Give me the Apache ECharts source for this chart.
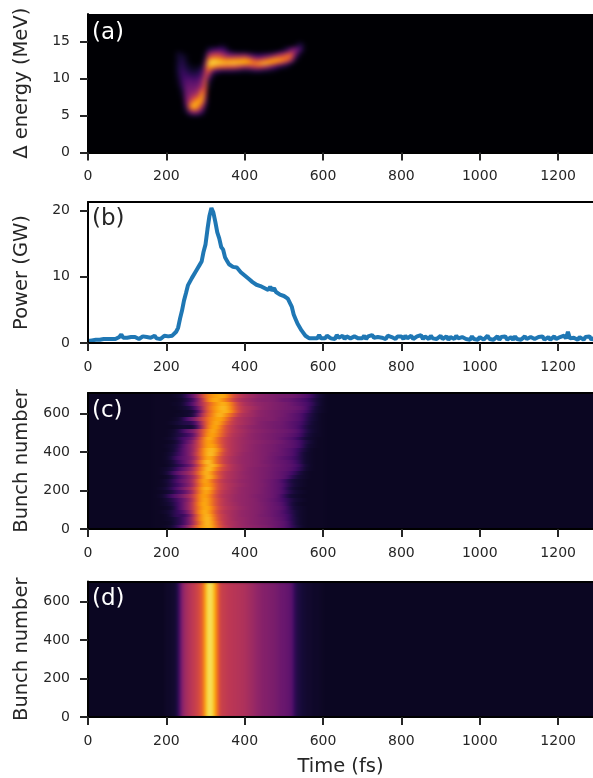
<!DOCTYPE html>
<html>
<head>
<meta charset="UTF-8">
<title></title>
<style>
html, body { margin: 0; padding: 0; background: #fff; overflow: hidden; }
#page { position: relative; width: 593px; height: 778px; }
#main { position: absolute; left: 0; top: 0; width: 593px; height: 778px; }
.heatClip { position: absolute; overflow: hidden; }
.heatInner { position: absolute; }
</style>
<script src="https://cdn.jsdelivr.net/npm/echarts@6/dist/echarts.min.js"></script>
</head>
<body>
<svg width="0" height="0" style="position:absolute">
  <filter id="softA" x="0" y="0" width="100%" height="100%" color-interpolation-filters="sRGB"><feGaussianBlur stdDeviation="2.4 2"/></filter>
  <filter id="softC" x="0" y="0" width="100%" height="100%" color-interpolation-filters="sRGB"><feGaussianBlur stdDeviation="2.4 0.7"/></filter>
  <filter id="softD" x="0" y="0" width="100%" height="100%" color-interpolation-filters="sRGB"><feGaussianBlur stdDeviation="1.6 1.5"/></filter>
</svg>
<div id="page"><div id="main"></div></div>
<script>
// tick labels
var timeTicks = [0, 200, 400, 600, 800, 1000, 1200];
var energyTicks = [0, 5, 10, 15];
var powerTicks = [0, 10, 20];
var bunchTicks = [0, 200, 400, 600];

// (a) energy vs time, values are % of the colour scale. rows go from 15 MeV down to 5 MeV, 0.5 MeV apart
var energyRows = [15, 14.5, 14, 13.5, 13, 12.5, 12, 11.5, 11, 10.5, 10, 9.5, 9, 8.5, 8, 7.5, 7, 6.5, 6, 5.5, 5];
var energyTimes = [220,230,240,250,260,270,280,290,300,310,320,330,340,350,360,370,380,390,400,410,420,430,440,450,460,470,480,490,500,510,520,530,540,550,560];
var energyMap = [
  [0,0,0,0,0,0,0,0,0,0,0,0,0,0,0,0,0,0,0,0,0,0,0,0,0,0,0,0,0,0,0,0,2,0,0],
  [0,0,0,0,0,0,0,0,0,0,0,0,4,2,0,0,0,0,0,0,0,0,0,0,0,0,0,0,0,0,0,5,12,5,0],
  [0,0,0,0,0,0,0,0,0,10,15,18,20,15,3,0,0,0,0,0,0,0,0,0,0,0,0,0,5,15,30,30,22,6,0],
  [0,5,3,0,0,0,0,0,5,30,38,42,38,30,18,12,8,8,8,5,3,2,2,3,4,6,12,22,30,42,50,35,12,2,0],
  [0,8,8,4,0,0,0,0,10,50,58,60,55,45,40,40,42,42,45,35,25,20,20,25,30,38,48,55,60,68,58,20,3,0,0],
  [0,8,12,6,0,0,0,0,25,75,85,82,78,72,72,74,74,76,78,72,60,52,55,62,68,75,78,76,70,62,38,6,0,0,0],
  [0,9,14,8,2,0,0,2,40,88,91,88,87,85,85,87,85,83,80,76,72,74,80,85,82,72,62,50,38,22,8,0,0,0,0],
  [0,10,15,10,6,3,4,10,46,78,74,66,62,60,58,58,54,48,42,44,48,52,52,48,40,30,20,12,8,4,0,0,0,0,0],
  [0,10,18,14,10,8,10,18,50,62,30,20,15,14,14,14,12,10,8,9,12,14,13,10,8,5,3,0,0,0,0,0,0,0,0],
  [0,8,18,18,16,14,16,24,58,40,8,2,0,0,0,0,0,0,0,0,0,0,0,0,0,0,0,0,0,0,0,0,0,0,0],
  [0,6,18,22,22,20,22,32,62,22,3,0,0,0,0,0,0,0,0,0,0,0,0,0,0,0,0,0,0,0,0,0,0,0,0],
  [0,4,17,25,26,25,26,38,63,12,0,0,0,0,0,0,0,0,0,0,0,0,0,0,0,0,0,0,0,0,0,0,0,0,0],
  [0,2,14,28,30,30,32,45,62,6,0,0,0,0,0,0,0,0,0,0,0,0,0,0,0,0,0,0,0,0,0,0,0,0,0],
  [0,0,10,30,32,34,38,58,58,2,0,0,0,0,0,0,0,0,0,0,0,0,0,0,0,0,0,0,0,0,0,0,0,0,0],
  [0,0,6,30,35,40,45,72,50,0,0,0,0,0,0,0,0,0,0,0,0,0,0,0,0,0,0,0,0,0,0,0,0,0,0],
  [0,0,3,30,42,52,62,78,42,0,0,0,0,0,0,0,0,0,0,0,0,0,0,0,0,0,0,0,0,0,0,0,0,0,0],
  [0,0,0,28,52,68,80,74,30,0,0,0,0,0,0,0,0,0,0,0,0,0,0,0,0,0,0,0,0,0,0,0,0,0,0],
  [0,0,0,22,68,85,80,58,18,0,0,0,0,0,0,0,0,0,0,0,0,0,0,0,0,0,0,0,0,0,0,0,0,0,0],
  [0,0,0,14,62,80,66,40,8,0,0,0,0,0,0,0,0,0,0,0,0,0,0,0,0,0,0,0,0,0,0,0,0,0,0],
  [0,0,0,6,30,42,36,18,2,0,0,0,0,0,0,0,0,0,0,0,0,0,0,0,0,0,0,0,0,0,0,0,0,0,0],
  [0,0,0,0,6,10,9,4,0,0,0,0,0,0,0,0,0,0,0,0,0,0,0,0,0,0,0,0,0,0,0,0,0,0,0]
];

// (b) power in GW, one reading every 5 fs starting at 0 fs
var powerValues = [
  0.3,0.5,0.4,0.6,0.5,0.7,0.5,0.8,0.6,0.8,0.6,0.8,0.6,0.8,0.6,0.8,0.9,1.3,0.8,0.7,
  0.8,0.6,0.9,0.6,0.9,1.0,0.6,0.7,1.0,0.7,0.9,0.6,0.8,1.0,1.1,0.7,0.8,0.6,0.9,1.1,
  0.8,1.0,0.9,1.1,1.2,1.7,2.3,3.7,4.9,6.4,7.5,8.7,8.9,9.8,10.1,10.8,10.9,11.8,12.3,13.8,
  14.9,17.2,19.2,20.4,19.7,18.3,16.7,15.8,14.5,14.1,12.9,12.4,11.9,12.0,11.5,11.7,11.4,11.4,10.7,10.7,
  10.2,10.2,9.7,9.7,9.2,9.2,8.8,8.9,8.6,8.7,8.3,8.5,8.0,8.5,7.9,8.3,7.7,7.8,7.3,7.2,
  7.1,6.8,6.7,6.1,5.5,4.3,3.6,2.9,2.7,1.9,1.6,1.1,1.1,0.7,0.8,0.7,0.8,0.7,1.2,0.7,
  1.0,0.7,1.1,1.2,0.7,1.0,0.6,1.2,0.8,0.9,1.1,0.6,1.0,1.2,0.7,0.8,1.0,1.1,0.7,1.0,
  0.7,1.1,0.6,1.0,0.7,1.2,0.8,0.6,0.9,1.1,0.8,0.9,0.6,1.1,0.8,0.9,1.2,0.6,1.0,0.7,
  1.0,0.6,1.1,0.7,1.0,1.1,0.6,0.9,1.0,0.7,1.2,0.6,1.0,0.7,0.6,1.1,0.7,1.0,0.6,0.9,
  1.1,0.6,0.9,1.0,0.5,0.9,1.0,0.6,1.1,0.7,0.5,0.9,1.0,0.6,0.9,0.5,1.0,0.6,0.9,0.5,
  0.9,1.0,0.5,0.8,1.1,0.6,0.9,0.5,0.8,1.0,0.5,0.9,0.6,1.0,0.5,0.8,0.9,0.5,1.0,0.6,
  0.9,0.5,0.8,1.0,0.6,0.5,0.9,1.1,0.6,0.5,0.9,0.6,1.0,0.5,0.8,0.9,0.5,0.8,1.0,0.6,
  0.5,0.9,0.6,1.1,0.7,1.7,0.7,0.5,0.8,1.0,0.5,0.9,0.6,0.5,0.9,0.6,1.0,0.5,0.8,0.9
];

// (c) measured bunches, % of colour scale. rows from bunch 690 down to bunch 10, columns 170 fs to 600 fs every 10 fs
var shotBunches = [690,670,650,630,610,590,570,550,530,510,490,470,450,430,410,390,370,350,330,310,290,270,250,230,210,190,170,150,130,110,90,70,50,30,10];
var shotTimes = [170,180,190,200,210,220,230,240,250,260,270,280,290,300,310,320,330,340,350,360,370,380,390,400,410,420,430,440,450,460,470,480,490,500,510,520,530,540,550,560,570,580,590,600];
var shotMap = [
  [6,6,6,6,6,7,8,10,16,24,32,42,56,66,72,78,80,82,80,70,60,54,50,46,44,42,40,38,37,36,35,34,33,33,32,32,30,28,26,24,20,14,10,8],
  [6,6,6,6,6,6,7,8,12,16,24,36,50,62,74,80,82,78,72,64,56,50,46,44,42,40,38,37,36,36,35,34,32,30,30,28,26,24,22,20,16,12,9,7],
  [6,6,6,6,6,7,7,9,14,20,28,38,48,56,64,72,78,82,82,76,66,56,50,46,44,42,40,39,38,37,36,35,34,33,32,30,28,26,24,22,18,13,9,7],
  [6,6,6,6,6,6,7,8,10,12,20,30,44,56,66,74,80,84,84,78,68,58,52,48,46,44,42,40,38,37,36,35,34,33,32,31,30,28,26,22,16,11,8,7],
  [6,6,6,6,6,6,6,7,8,8,12,22,40,54,64,72,80,82,84,80,70,60,52,48,45,42,40,38,37,36,35,34,33,32,31,30,28,26,24,20,14,10,8,7],
  [6,6,6,6,6,6,7,7,8,9,14,30,46,58,66,74,82,84,78,70,62,54,48,46,44,42,40,38,37,36,35,34,33,32,30,28,26,24,20,16,12,9,7,6],
  [6,6,6,6,6,7,8,12,20,28,34,44,54,62,70,76,80,80,72,62,54,48,46,44,42,40,38,37,36,36,35,34,32,31,30,28,26,24,20,15,11,9,7,6],
  [6,6,6,6,7,8,10,12,14,14,20,32,48,60,70,78,82,76,66,58,52,48,46,44,42,40,38,36,35,34,33,32,32,30,28,26,24,22,18,14,10,8,7,6],
  [6,6,6,6,6,6,8,8,10,8,12,26,44,60,72,80,80,70,60,54,50,46,44,42,40,38,37,36,35,34,33,32,31,30,28,26,24,20,16,12,9,8,7,6],
  [6,6,6,6,7,8,12,18,26,30,36,46,58,68,76,82,76,68,60,54,50,47,45,43,41,39,38,37,36,35,34,33,32,31,30,28,26,22,18,13,10,8,7,6],
  [6,6,6,6,7,9,12,14,18,22,30,44,58,70,78,80,74,66,58,52,48,46,44,42,40,38,37,36,35,34,33,32,31,30,28,26,24,20,16,11,9,7,7,6],
  [6,6,6,7,8,10,14,20,24,28,36,50,64,76,82,78,68,60,54,50,47,45,43,41,40,38,37,36,35,34,33,32,30,28,26,24,20,16,12,9,8,7,6,6],
  [6,6,6,6,7,8,12,18,26,32,42,54,66,76,80,76,68,60,54,50,47,45,43,42,40,39,38,37,36,35,34,33,32,30,28,26,24,20,16,12,9,7,6,6],
  [6,6,6,7,8,10,14,22,30,36,44,54,66,76,80,80,72,62,54,50,47,45,43,41,40,38,37,36,35,34,33,32,30,29,28,26,24,20,15,10,8,7,6,6],
  [6,6,6,6,8,10,16,24,30,36,44,56,70,80,84,84,78,66,56,50,47,45,43,41,40,38,37,36,35,34,33,32,30,28,26,24,20,16,12,9,7,6,6,6],
  [6,6,6,7,9,12,18,24,30,36,46,58,70,80,85,84,74,62,54,50,47,44,42,40,39,38,37,36,35,34,32,31,30,28,26,24,20,14,10,8,7,6,6,6],
  [6,6,6,7,10,16,22,26,30,34,42,54,68,78,82,78,66,58,52,48,45,43,41,40,39,38,37,36,35,33,32,30,28,26,24,22,18,14,10,8,7,6,6,6],
  [6,6,6,7,8,12,18,24,30,36,46,60,74,84,86,78,66,58,52,48,45,43,41,40,39,38,37,36,34,33,32,30,29,28,26,24,20,15,10,8,7,6,6,6],
  [6,6,6,6,8,10,14,18,24,30,40,54,68,78,84,84,76,64,56,50,47,44,42,40,39,38,37,36,35,34,32,31,30,28,27,25,22,18,12,9,7,6,6,6],
  [6,6,7,8,10,14,20,26,32,38,48,60,72,82,86,80,68,60,54,50,46,44,42,40,38,37,36,35,34,33,32,30,29,28,26,24,20,16,11,8,7,6,6,6],
  [6,6,7,9,14,22,28,34,38,44,52,64,76,84,82,72,62,55,50,47,45,43,41,39,38,37,36,35,34,33,31,30,28,26,24,20,16,11,8,7,6,6,6,6],
  [6,6,6,7,9,14,20,26,32,38,46,58,72,82,84,76,64,56,50,47,45,43,41,40,38,37,36,35,34,33,31,30,28,26,22,16,12,9,8,7,6,6,6,6],
  [6,6,7,9,12,18,24,30,34,40,50,64,76,82,76,66,58,52,48,46,44,42,40,39,38,37,36,35,33,32,30,28,25,20,15,11,9,8,7,6,6,6,6,6],
  [6,6,7,8,12,16,20,26,32,38,48,62,74,80,78,70,60,54,50,47,45,43,41,40,38,37,36,35,34,32,30,28,26,22,16,12,9,8,7,6,6,6,6,6],
  [6,7,8,10,14,20,26,32,38,44,54,66,78,84,82,72,60,54,50,47,44,42,40,39,38,37,36,35,33,32,30,28,26,20,14,10,8,7,6,6,6,6,6,6],
  [6,6,7,8,10,14,20,24,30,38,50,64,76,82,78,68,58,52,48,46,44,42,40,39,38,37,36,35,33,32,30,28,26,22,16,12,9,8,7,6,6,6,6,6],
  [6,7,8,12,18,24,28,34,40,46,56,68,78,80,74,64,56,50,47,45,43,41,40,39,38,36,35,34,33,32,30,28,24,18,12,9,8,7,6,6,6,6,6,6],
  [6,6,7,9,12,16,22,28,34,42,54,68,78,82,76,66,58,52,48,45,43,41,40,39,38,37,36,34,33,31,29,27,24,20,16,12,9,8,7,6,6,6,6,6],
  [6,6,7,8,10,14,20,28,36,44,56,70,80,82,76,66,58,52,48,46,44,42,40,39,38,37,36,35,33,32,30,28,26,22,16,11,8,7,6,6,6,6,6,6],
  [6,6,6,7,8,12,20,28,36,44,56,68,78,82,80,70,60,54,50,47,45,43,41,40,38,37,36,35,34,32,30,29,27,24,18,12,9,8,7,6,6,6,6,6],
  [6,6,7,8,10,14,18,22,30,40,54,70,80,84,78,68,58,52,48,46,44,42,40,39,38,37,36,35,33,32,30,28,26,22,18,14,10,8,7,6,6,6,6,6],
  [6,6,6,7,9,14,18,16,22,32,48,64,78,84,82,72,60,54,50,46,44,42,40,39,38,37,36,34,33,32,30,28,26,24,20,15,10,8,7,6,6,6,6,6],
  [6,6,6,7,8,10,14,18,26,36,50,66,78,84,84,74,62,54,50,47,44,42,41,40,38,37,36,35,34,33,31,29,27,25,20,15,11,8,7,6,6,6,6,6],
  [6,6,6,6,7,10,14,18,26,36,48,62,76,84,84,76,64,56,50,47,45,43,41,40,38,37,36,35,34,33,31,30,28,26,22,16,11,8,7,6,6,6,6,6],
  [6,6,6,7,8,12,18,26,34,44,56,68,78,82,84,78,66,58,52,48,45,43,42,40,39,38,37,36,35,34,32,30,28,26,22,17,12,9,7,6,6,6,6,6]
];

// (d) simulated bunches look the same along the train, one profile every 5 fs from 200 fs to 600 fs
var simBunches = [50, 150, 250, 350, 450, 550, 650];
var simProfile = [
  7,7,7,8,8,10,15,25,36,40,44,46,48,50,52,54,56,60,64,72,
  84,90,92,92,88,80,70,60,54,53,52,51,50,50,49,49,48,48,47,47,
  46,45,44,43,42,41,40,39,38,37,36,36,35,35,34,34,33,32,31,30,
  30,29,28,27,25,18,14,12,11,10,9,9,8,8,8,7,7,7,7,6,
  6
];

// inferno
var inferno = ['#000004','#160b39','#420a68','#6a176e','#932667','#bc3754','#dd513a','#f37819','#fca50a','#f6d746','#fcffa4'];

var plotLeft = 88, plotWidth = 505;
var tops = [14, 202, 393, 581.5];
var heights = [138.5, 141, 136, 136];
var labelFont = 'DejaVu Sans';
var timeMax = 1289;
var pad = 12;

// cell drawn through the axes so that it follows the scales
function cellRender(halfX, halfY) {
  return function (params, api) {
    var a = api.coord([api.value(0) - halfX, api.value(1) + halfY]);
    var b = api.coord([api.value(0) + halfX, api.value(1) - halfY]);
    var x = Math.round(a[0]), y = Math.round(a[1]);
    return {
      type: 'rect',
      shape: { x: x, y: y, width: Math.round(b[0]) - x, height: Math.round(b[1]) - y },
      style: { fill: api.visual('color') }
    };
  };
}

var energyData = [];
energyRows.forEach(function (e, i) {
  energyTimes.forEach(function (t, j) { energyData.push([t, e, energyMap[i][j]]); });
});
var shotData = [];
shotBunches.forEach(function (b, i) {
  shotTimes.forEach(function (t, j) { shotData.push([t, b, shotMap[i][j]]); });
});
var simData = [];
simBunches.forEach(function (b) {
  simProfile.forEach(function (v, j) { simData.push([200 + j * 5, b, v]); });
});
var powerData = powerValues.map(function (v, i) { return [i * 5, v]; });

// the images sit in their own chart under the axes so they can be softened, they are cut to the plot box
function addImage(panel, data, yMax, halfX, halfY, bg, filter) {
  var clip = document.createElement('div');
  clip.className = 'heatClip';
  clip.style.cssText = 'left:' + plotLeft + 'px;top:' + tops[panel] + 'px;width:' + plotWidth + 'px;height:' + heights[panel] + 'px';
  var inner = document.createElement('div');
  inner.className = 'heatInner';
  inner.style.cssText = 'left:' + (-pad) + 'px;top:' + (-pad) + 'px;width:' + (plotWidth + 2 * pad) + 'px;height:' + (heights[panel] + 2 * pad) + 'px;filter:url(#' + filter + ')';
  clip.appendChild(inner);
  document.getElementById('page').insertBefore(clip, document.getElementById('main'));
  var chart = echarts.init(inner);
  chart.setOption({
    animation: false,
    backgroundColor: bg,
    grid: { left: pad, top: pad, width: plotWidth, height: heights[panel] },
    xAxis: { type: 'value', min: 0, max: timeMax, show: false },
    yAxis: { type: 'value', min: 0, max: yMax, show: false },
    visualMap: { show: false, type: 'continuous', dimension: 2, min: 0, max: 100, inRange: { color: inferno } },
    series: [{ type: 'custom', clip: true, renderItem: cellRender(halfX, halfY), data: data }]
  });
}

var energyMax = 18.7, powerMax = 21.3, bunchMax = 706;
addImage(0, energyData, energyMax, 5, 0.25, '#000004', 'softA');
addImage(2, shotData, bunchMax, 5, 10, '#0b0622', 'softC');
addImage(3, simData, bunchMax, 2.5, 55, '#0b0622', 'softD');

function xAxisFor(index, name) {
  return {
    type: 'value', gridIndex: index, min: 0, max: timeMax, z: 10,
    name: name || '', nameLocation: 'middle', nameGap: 40,
    nameTextStyle: { fontFamily: labelFont, fontSize: 19.5, color: '#262626' },
    axisLine: { onZero: false, lineStyle: { color: '#000', width: 2 } },
    axisTick: { length: 8, lineStyle: { color: '#262626', width: 2 }, customValues: timeTicks },
    axisLabel: { fontFamily: labelFont, fontSize: 14, color: '#262626', margin: 17, customValues: timeTicks, formatter: function (v) { return '' + v; } },
    splitLine: { show: false }
  };
}
function yAxisFor(index, name, max, ticks) {
  return {
    type: 'value', gridIndex: index, min: 0, max: max, z: 10,
    name: name, nameLocation: 'middle', nameGap: 56,
    nameTextStyle: { fontFamily: labelFont, fontSize: 19.5, color: '#262626' },
    axisLine: { onZero: false, lineStyle: { color: '#000', width: 2 } },
    axisTick: { length: 8, lineStyle: { color: '#262626', width: 2 }, customValues: ticks },
    axisLabel: { fontFamily: labelFont, fontSize: 14, color: '#262626', margin: 18, customValues: ticks, formatter: function (v) { return '' + v; } },
    splitLine: { show: false }
  };
}
// plain line along the top of a panel
function topAxisFor(index) {
  return {
    type: 'value', gridIndex: index, min: 0, max: timeMax, position: 'top', z: 10,
    axisLine: { onZero: false, lineStyle: { color: '#000', width: 2 } },
    axisTick: { show: false }, axisLabel: { show: false }, splitLine: { show: false }
  };
}
function panelLabel(text, top, color) {
  return { text: text, left: 87, top: top, z: 20, textStyle: { fontFamily: labelFont, fontSize: 23, fontWeight: 'normal', color: color } };
}

var myChart = echarts.init(document.getElementById('main'));

var option = {
  animation: false,
  title: [
    panelLabel('(a)', 17, '#fff'),
    panelLabel('(b)', 203, '#262626'),
    panelLabel('(c)', 395, '#fff'),
    panelLabel('(d)', 583, '#fff')
  ],
  grid: [0, 1, 2, 3].map(function (i) {
    return { left: plotLeft, top: tops[i], width: plotWidth, height: heights[i] };
  }),
  xAxis: [
    xAxisFor(0), xAxisFor(1), xAxisFor(2), xAxisFor(3, 'Time (fs)'),
    topAxisFor(1), topAxisFor(2), topAxisFor(3)
  ],
  yAxis: [
    yAxisFor(0, 'Δ energy (MeV)', energyMax, energyTicks),
    yAxisFor(1, 'Power (GW)', powerMax, powerTicks),
    yAxisFor(2, 'Bunch number', bunchMax, bunchTicks),
    yAxisFor(3, 'Bunch number', bunchMax, bunchTicks)
  ],
  series: [
    {
      type: 'line', xAxisIndex: 1, yAxisIndex: 1, data: powerData, showSymbol: false, clip: true,
      lineStyle: { color: '#1f77b4', width: 4 }
    }
  ]
};

myChart.setOption(option);
</script>
</body>
</html>
